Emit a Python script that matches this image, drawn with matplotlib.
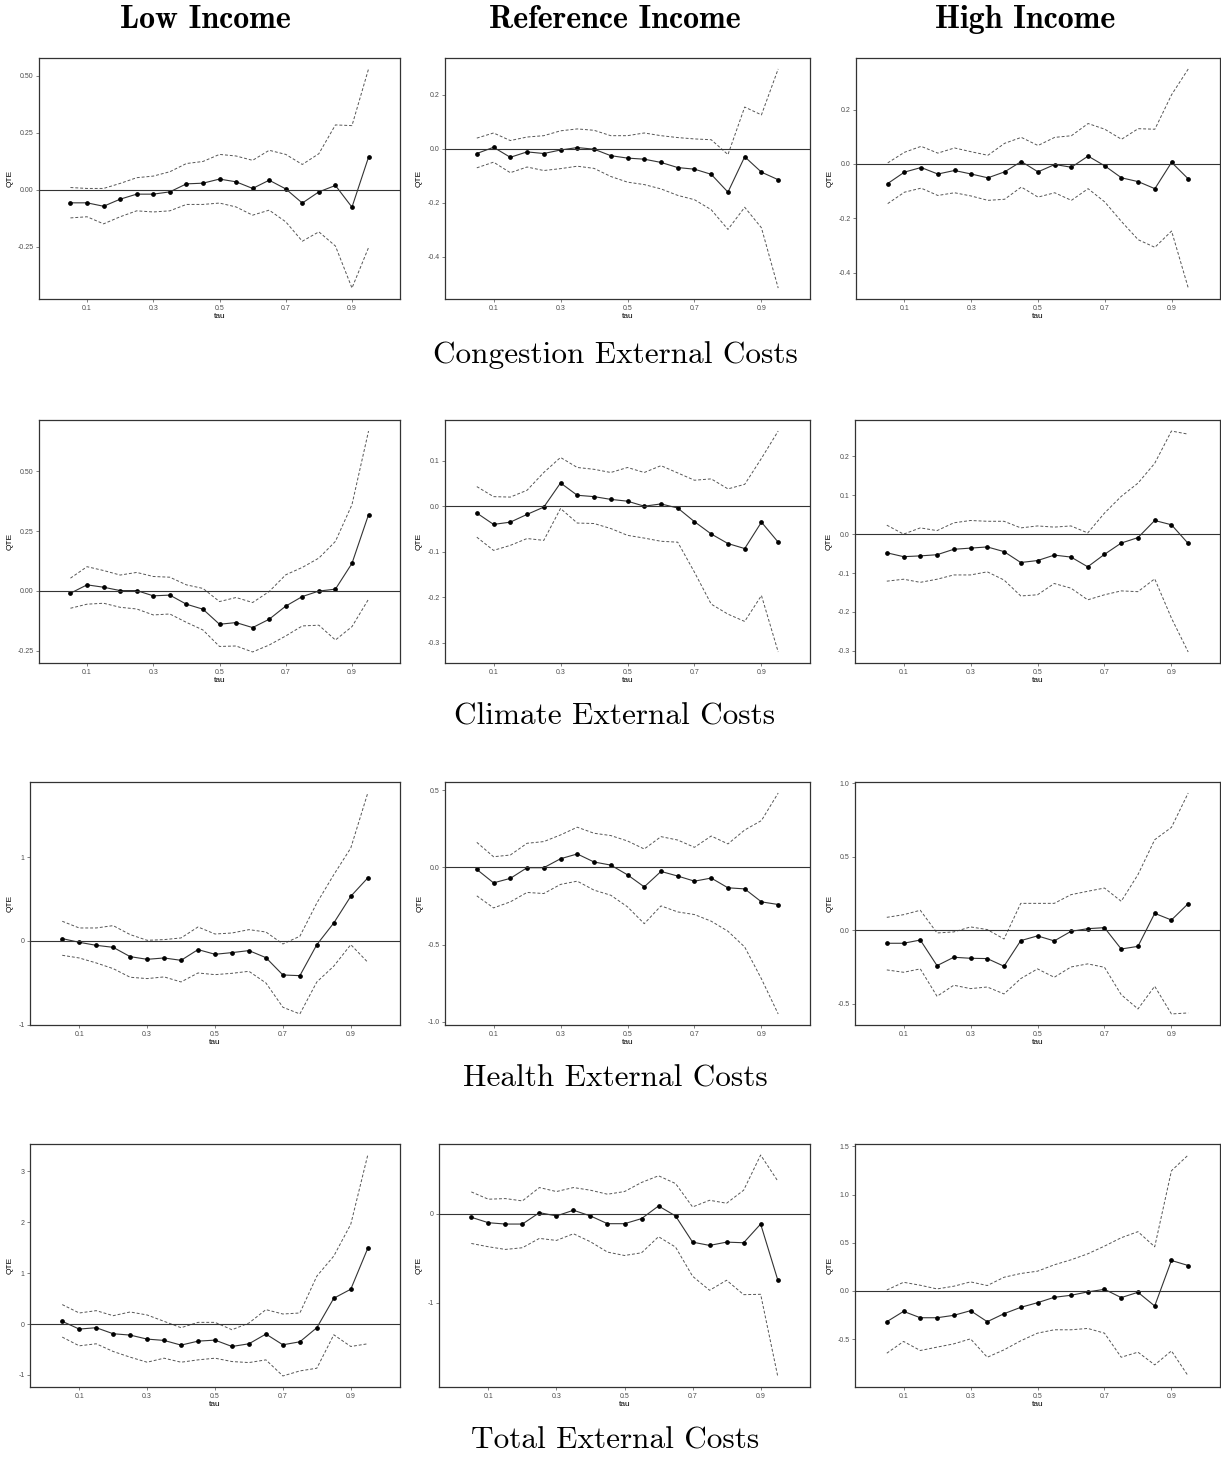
import matplotlib
matplotlib.use("Agg")
import matplotlib.pyplot as plt
import numpy as np

plt.rcParams['axes.unicode_minus'] = False
plt.rcParams['font.family'] = ['Liberation Sans', 'DejaVu Sans']

tau = [0.05, 0.10, 0.15, 0.20, 0.25, 0.30, 0.35, 0.40, 0.45, 0.50,
       0.55, 0.60, 0.65, 0.70, 0.75, 0.80, 0.85, 0.90, 0.95]

col_titles = ["Low Income", "Reference Income", "High Income"]
row_titles = ["Congestion External Costs", "Climate External Costs",
              "Health External Costs", "Total External Costs"]

# congestion
cong_low_qte = [-0.057, -0.057, -0.072, -0.041, -0.019, -0.019, -0.009, 0.026, 0.029, 0.047,
                0.035, 0.006, 0.042, 0.004, -0.058, -0.009, 0.019, -0.076, 0.143]
cong_low_up = [0.010, 0.006, 0.006, 0.028, 0.053, 0.060, 0.079, 0.115, 0.124, 0.155,
               0.148, 0.129, 0.173, 0.155, 0.111, 0.158, 0.284, 0.281, 0.529]
cong_low_lo = [-0.123, -0.118, -0.149, -0.118, -0.092, -0.097, -0.092, -0.064, -0.064, -0.058,
               -0.075, -0.111, -0.089, -0.140, -0.225, -0.184, -0.246, -0.430, -0.253]

cong_ref_qte = [-0.017, 0.006, -0.031, -0.011, -0.017, -0.004, 0.005, -0.001, -0.025, -0.034,
                -0.038, -0.050, -0.069, -0.075, -0.094, -0.160, -0.029, -0.086, -0.114]
cong_ref_up = [0.040, 0.059, 0.031, 0.044, 0.049, 0.067, 0.074, 0.069, 0.049, 0.049,
               0.059, 0.049, 0.042, 0.037, 0.034, -0.021, 0.155, 0.126, 0.296]
cong_ref_lo = [-0.070, -0.049, -0.088, -0.067, -0.080, -0.073, -0.064, -0.072, -0.102, -0.123,
               -0.132, -0.148, -0.172, -0.188, -0.225, -0.298, -0.216, -0.292, -0.515]

cong_high_qte = [-0.072, -0.030, -0.013, -0.037, -0.024, -0.037, -0.051, -0.029, 0.009, -0.029,
                 -0.002, -0.012, 0.029, -0.007, -0.051, -0.065, -0.091, 0.006, -0.055]
cong_high_up = [0.004, 0.043, 0.065, 0.040, 0.059, 0.045, 0.032, 0.076, 0.098, 0.068,
                0.098, 0.104, 0.149, 0.128, 0.091, 0.130, 0.128, 0.255, 0.350]
cong_high_lo = [-0.146, -0.104, -0.089, -0.116, -0.106, -0.118, -0.134, -0.130, -0.085, -0.122,
                -0.106, -0.134, -0.091, -0.140, -0.212, -0.279, -0.307, -0.247, -0.457]

# climate
clim_low_qte = [-0.010, 0.025, 0.015, 0.001, 0.001, -0.021, -0.018, -0.056, -0.077, -0.140,
                -0.133, -0.154, -0.119, -0.064, -0.024, -0.001, 0.007, 0.115, 0.319]
clim_low_up = [0.053, 0.101, 0.085, 0.066, 0.077, 0.060, 0.057, 0.025, 0.010, -0.045,
               -0.028, -0.049, -0.003, 0.067, 0.098, 0.137, 0.207, 0.361, 0.669]
clim_low_lo = [-0.073, -0.056, -0.052, -0.069, -0.076, -0.101, -0.097, -0.132, -0.164, -0.233,
               -0.231, -0.256, -0.227, -0.189, -0.147, -0.144, -0.206, -0.150, -0.035]

clim_ref_qte = [-0.015, -0.040, -0.035, -0.018, -0.002, 0.051, 0.024, 0.021, 0.015, 0.011,
                0.000, 0.005, -0.004, -0.034, -0.061, -0.082, -0.093, -0.035, -0.079]
clim_ref_up = [0.043, 0.021, 0.020, 0.035, 0.074, 0.107, 0.085, 0.081, 0.074, 0.085,
               0.074, 0.089, 0.073, 0.057, 0.060, 0.038, 0.048, 0.105, 0.165]
clim_ref_lo = [-0.068, -0.097, -0.086, -0.071, -0.075, -0.005, -0.037, -0.038, -0.049, -0.064,
               -0.070, -0.077, -0.079, -0.145, -0.215, -0.237, -0.253, -0.196, -0.320]

clim_high_qte = [-0.048, -0.058, -0.056, -0.053, -0.039, -0.036, -0.033, -0.045, -0.073, -0.068,
                 -0.054, -0.059, -0.084, -0.052, -0.023, -0.009, 0.035, 0.024, -0.024]
clim_high_up = [0.023, 0.000, 0.016, 0.009, 0.029, 0.035, 0.033, 0.033, 0.016, 0.021,
                0.018, 0.021, 0.003, 0.054, 0.097, 0.131, 0.182, 0.265, 0.257]
clim_high_lo = [-0.121, -0.116, -0.124, -0.116, -0.105, -0.105, -0.097, -0.118, -0.159, -0.156,
                -0.127, -0.139, -0.169, -0.156, -0.146, -0.148, -0.115, -0.216, -0.303]

# health
heal_low_qte = [0.028, -0.016, -0.052, -0.076, -0.187, -0.219, -0.203, -0.231, -0.103, -0.159,
                -0.139, -0.115, -0.199, -0.406, -0.414, -0.044, 0.215, 0.533, 0.752]
heal_low_up = [0.235, 0.155, 0.155, 0.183, 0.076, 0.008, 0.016, 0.036, 0.167, 0.083,
               0.095, 0.135, 0.107, -0.036, 0.056, 0.453, 0.791, 1.109, 1.765]
heal_low_lo = [-0.171, -0.203, -0.262, -0.330, -0.433, -0.449, -0.429, -0.489, -0.382, -0.402,
               -0.386, -0.362, -0.501, -0.791, -0.871, -0.489, -0.300, -0.044, -0.254]

heal_ref_qte = [-0.013, -0.100, -0.071, -0.002, -0.002, 0.056, 0.087, 0.035, 0.015, -0.048,
                -0.126, -0.026, -0.056, -0.089, -0.069, -0.132, -0.139, -0.223, -0.240]
heal_ref_up = [0.162, 0.069, 0.080, 0.156, 0.167, 0.210, 0.260, 0.221, 0.206, 0.171,
               0.119, 0.199, 0.177, 0.130, 0.203, 0.152, 0.242, 0.303, 0.481]
heal_ref_lo = [-0.184, -0.262, -0.223, -0.162, -0.169, -0.110, -0.089, -0.147, -0.180, -0.255,
               -0.364, -0.249, -0.288, -0.305, -0.348, -0.413, -0.515, -0.721, -0.948]

heal_high_qte = [-0.088, -0.088, -0.066, -0.240, -0.183, -0.190, -0.192, -0.244, -0.070, -0.038,
                 -0.072, -0.007, 0.011, 0.018, -0.127, -0.109, 0.115, 0.070, 0.181]
heal_high_up = [0.088, 0.106, 0.136, -0.018, -0.011, 0.023, 0.005, -0.059, 0.183, 0.183,
                0.183, 0.242, 0.265, 0.287, 0.197, 0.378, 0.615, 0.699, 0.932]
heal_high_lo = [-0.269, -0.285, -0.262, -0.448, -0.373, -0.396, -0.385, -0.432, -0.328, -0.262,
                -0.319, -0.249, -0.228, -0.251, -0.437, -0.534, -0.380, -0.568, -0.561]

# total
tot_low_qte = [0.053, -0.099, -0.072, -0.191, -0.217, -0.296, -0.322, -0.414, -0.336, -0.316,
               -0.441, -0.388, -0.197, -0.408, -0.349, -0.072, 0.507, 0.684, 1.487]
tot_low_up = [0.382, 0.217, 0.263, 0.164, 0.237, 0.178, 0.053, -0.072, 0.033, 0.033,
              -0.112, 0.020, 0.283, 0.197, 0.217, 0.941, 1.336, 1.961, 3.320]
tot_low_lo = [-0.257, -0.428, -0.388, -0.539, -0.651, -0.750, -0.671, -0.750, -0.704, -0.671,
              -0.737, -0.757, -0.704, -1.020, -0.921, -0.868, -0.211, -0.441, -0.388]

tot_ref_qte = [-0.041, -0.102, -0.117, -0.117, 0.011, -0.026, 0.038, -0.026, -0.113, -0.113,
               -0.056, 0.086, -0.026, -0.320, -0.357, -0.320, -0.327, -0.117, -0.741]
tot_ref_up = [0.244, 0.162, 0.169, 0.143, 0.293, 0.248, 0.293, 0.263, 0.218, 0.248,
              0.350, 0.425, 0.338, 0.075, 0.150, 0.117, 0.263, 0.658, 0.368]
tot_ref_lo = [-0.335, -0.372, -0.402, -0.383, -0.278, -0.301, -0.226, -0.316, -0.432, -0.470,
              -0.440, -0.259, -0.376, -0.703, -0.861, -0.748, -0.910, -0.906, -1.823]

tot_high_qte = [-0.319, -0.212, -0.278, -0.278, -0.253, -0.205, -0.319, -0.236, -0.170, -0.122,
                -0.066, -0.045, -0.010, 0.017, -0.069, -0.014, -0.156, 0.316, 0.264]
tot_high_up = [0.010, 0.090, 0.059, 0.021, 0.049, 0.094, 0.056, 0.142, 0.181, 0.205,
               0.271, 0.323, 0.385, 0.465, 0.552, 0.615, 0.458, 1.247, 1.410]
tot_high_lo = [-0.646, -0.524, -0.618, -0.583, -0.549, -0.497, -0.688, -0.611, -0.517, -0.438,
               -0.403, -0.403, -0.389, -0.438, -0.688, -0.635, -0.767, -0.622, -0.882]

panels = [
    [(cong_low_qte, cong_low_up, cong_low_lo), (cong_ref_qte, cong_ref_up, cong_ref_lo),
     (cong_high_qte, cong_high_up, cong_high_lo)],
    [(clim_low_qte, clim_low_up, clim_low_lo), (clim_ref_qte, clim_ref_up, clim_ref_lo),
     (clim_high_qte, clim_high_up, clim_high_lo)],
    [(heal_low_qte, heal_low_up, heal_low_lo), (heal_ref_qte, heal_ref_up, heal_ref_lo),
     (heal_high_qte, heal_high_up, heal_high_lo)],
    [(tot_low_qte, tot_low_up, tot_low_lo), (tot_ref_qte, tot_ref_up, tot_ref_lo),
     (tot_high_qte, tot_high_up, tot_high_lo)],
]

# y ticks and label format per panel
yticks = [
    [([-0.25, 0, 0.25, 0.5], "%.2f"), ([-0.4, -0.2, 0, 0.2], "%.1f"), ([-0.4, -0.2, 0, 0.2], "%.1f")],
    [([-0.25, 0, 0.25, 0.5], "%.2f"), ([-0.3, -0.2, -0.1, 0, 0.1], "%.1f"),
     ([-0.3, -0.2, -0.1, 0, 0.1, 0.2], "%.1f")],
    [([-1, 0, 1], "%d"), ([-1.0, -0.5, 0, 0.5], "%.1f"), ([-0.5, 0, 0.5, 1.0], "%.1f")],
    [([-1, 0, 1, 2, 3], "%d"), ([-1, 0], "%d"), ([-0.5, 0, 0.5, 1.0, 1.5], "%.1f")],
]

W, H = 1221, 1459
fig = plt.figure(figsize=(W / 100, H / 100), dpi=100)

# axes boxes in pixels: (left, top, right, bottom)
row_tb = [(58, 299), (420, 663), (782, 1025), (1144, 1387)]
lefts = [[39, 445, 856], [39, 445, 855], [30, 445, 855], [30, 439, 855]]
rights = [400, 810, 1220]

for r in range(4):
    for c in range(3):
        top, bot = row_tb[r]
        l, rr = lefts[r][c], rights[c]
        ax = fig.add_axes([l / W, 1 - bot / H, (rr - l) / W, (bot - top) / H])
        qte, up, lo = panels[r][c]
        ax.plot(tau, up, ls=(0, (3, 2)), color="#555555", lw=0.7)
        ax.plot(tau, lo, ls=(0, (3, 2)), color="#555555", lw=0.7)
        ax.plot(tau, qte, color="#333333", lw=0.8, marker="o", ms=2.4,
                mfc="black", mec="black")
        ax.axhline(0, color="#333333", lw=0.8)
        ax.set_xlim(-0.045, 1.045)
        ticks, fmt = yticks[r][c]
        ax.set_yticks(ticks)
        ax.set_yticklabels([(fmt % t).replace("-", "\u2010") for t in ticks])
        ax.set_xticks([0.1, 0.3, 0.5, 0.7, 0.9])
        ax.set_xticklabels(["0.1", "0.3", "0.5", "0.7", "0.9"])
        ax.tick_params(labelsize=5, colors="#4D4D4D", length=2, width=0.5, pad=2)
        ax.set_xlabel("tau", fontsize=6, labelpad=1)
        ax.set_ylabel("QTE", fontsize=6, labelpad=3)
        for s in ax.spines.values():
            s.set_linewidth(0.9)
            s.set_color("#333333")

col_x = [205, 615, 1025]
for c in range(3):
    fig.text(col_x[c] / W, 1 - 20 / H, col_titles[c], ha="center", va="center",
             fontsize=23, family=["cmb10", "DejaVu Serif"], fontweight="bold")

row_y = [355, 717, 1079, 1441]
for r in range(4):
    fig.text(615 / W, 1 - row_y[r] / H, row_titles[r], ha="center", va="center",
             fontsize=22.5, family=["cmr10", "DejaVu Serif"])

fig.savefig("out.png", dpi=100, facecolor="white")
